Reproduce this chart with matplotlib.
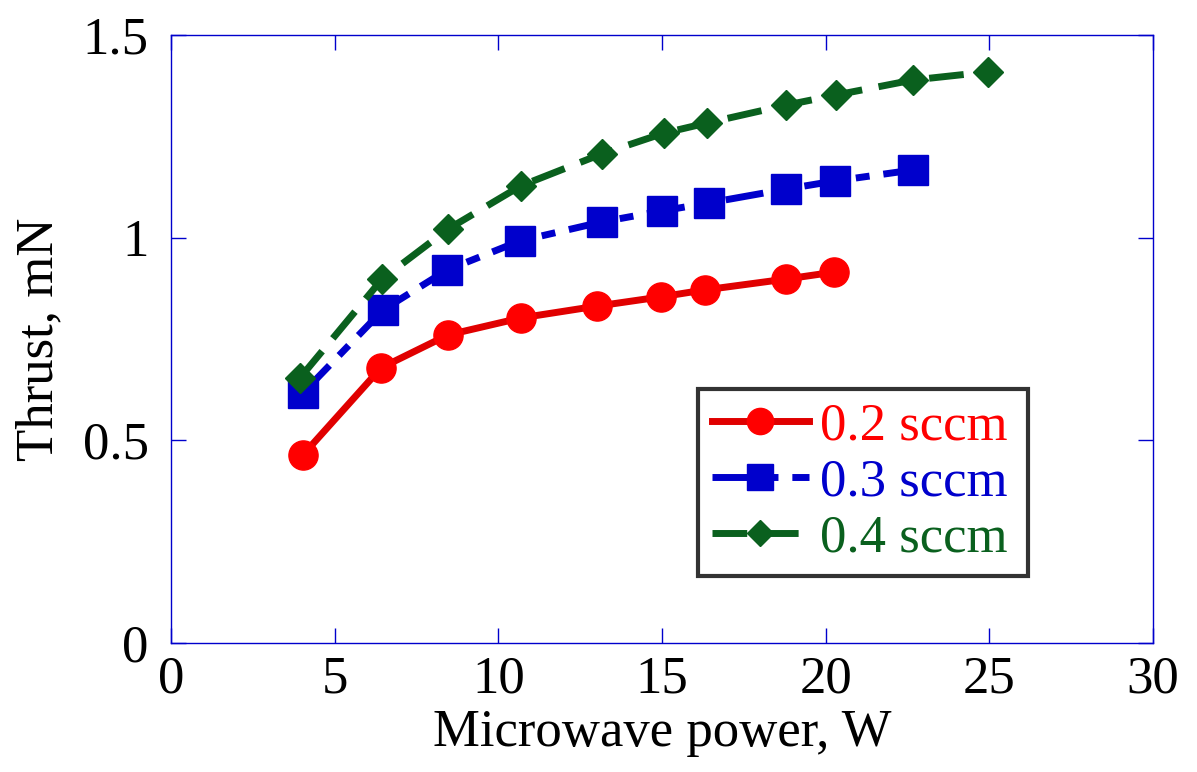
import matplotlib
matplotlib.use("Agg")
import matplotlib.pyplot as plt

plt.rcParams["font.family"] = ["Liberation Serif", "DejaVu Serif"]

# data
power_02 = [4.03, 6.42, 8.46, 10.69, 13.0, 14.97, 16.3, 18.8, 20.26]
thrust_02 = [0.464, 0.679, 0.760, 0.802, 0.831, 0.854, 0.871, 0.898, 0.915]

power_03 = [4.03, 6.48, 8.43, 10.66, 13.17, 15.0, 16.44, 18.8, 20.29, 22.67]
thrust_03 = [0.617, 0.822, 0.920, 0.992, 1.039, 1.066, 1.086, 1.120, 1.140, 1.167]

power_04 = [3.94, 6.45, 8.46, 10.69, 13.17, 15.06, 16.38, 18.79, 20.32, 22.67, 24.96]
thrust_04 = [0.654, 0.898, 1.021, 1.128, 1.207, 1.258, 1.283, 1.327, 1.352, 1.389, 1.409]

labels = ["0.2 sccm", "0.3 sccm", "0.4 sccm"]
x_ticks = [0, 5, 10, 15, 20, 25, 30]
y_ticks = [0, 0.5, 1, 1.5]
y_tick_labels = ["0", "0.5", "1", "1.5"]

red = "#ff0000"
blue = "#0000cc"
green = "#0a601e"

fig = plt.figure(figsize=(11.97, 7.72), dpi=100)
ax = fig.add_axes([171 / 1197, 129 / 772, 982 / 1197, 608 / 772])

ax.plot(power_02, thrust_02, color="#e00000", lw=5, marker="o", ms=21,
        mfc=red, mec=red, label=labels[0])
ax.plot(power_03, thrust_03, color=blue, lw=5, marker="s", ms=21,
        mfc=blue, mec=blue, dashes=(5.5, 2.0, 2.0, 2.0), label=labels[1])
ax.plot(power_04, thrust_04, color=green, lw=5, marker="D", ms=15,
        mfc=green, mec=green, dashes=(5.0, 2.4), label=labels[2])

ax.set_xlim(0, 30)
ax.set_ylim(0, 1.5)
ax.set_xticks(x_ticks)
ax.set_yticks(y_ticks)
ax.set_yticklabels(y_tick_labels)
ax.tick_params(direction="in", length=11, width=1, color=blue,
               top=True, right=True, labelsize=38)
ax.tick_params(axis="x", pad=9)
ax.tick_params(axis="y", pad=16)
for spine in ax.spines.values():
    spine.set_color(blue)
    spine.set_linewidth(1)

ax.set_xlabel("Microwave power, W", fontsize=38, labelpad=4)
ax.set_ylabel("Thrust, mN", fontsize=38, labelpad=14)

leg = ax.legend(loc="lower left", bbox_to_anchor=(0.537, 0.11, 0.336, 0.334),
                mode="expand", fontsize=38, frameon=True, fancybox=False,
                handlelength=1.85, handletextpad=0.2, labelspacing=0.16,
                borderpad=0.25, borderaxespad=0, markerscale=0.9)
leg.get_frame().set_edgecolor("black")
leg.get_frame().set_linewidth(3)
for text, col in zip(leg.get_texts(), [red, blue, green]):
    text.set_color(col)

fig.savefig("out.png", dpi=100)
